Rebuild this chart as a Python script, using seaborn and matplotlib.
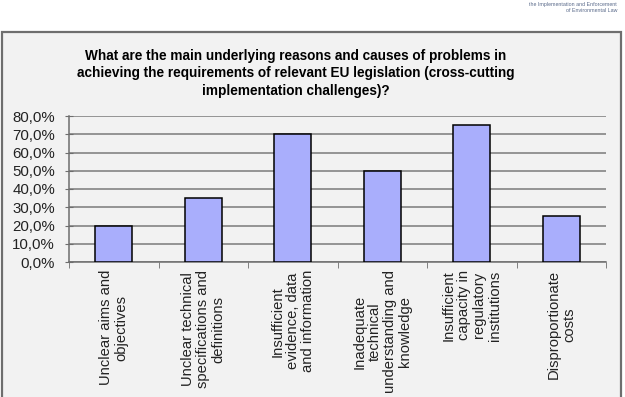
import seaborn as sns
import pandas as pd
from matplotlib import pyplot as plt
from matplotlib.patches import Rectangle

categories = [
    'Unclear aims and\nobjectives',
    'Unclear technical\nspecifications and\ndefinitions',
    'Insufficient\nevidence, data\nand information',
    'Inadequate\ntechnical\nunderstanding and\nknowledge',
    'Insufficient\ncapacity in\nregulatory\ninstitutions',
    'Disproportionate\ncosts',
]
shares = [20.0, 35.0, 70.0, 50.0, 75.0, 25.0]
y_ticks = [0, 10, 20, 30, 40, 50, 60, 70, 80]
y_tick_labels = ['0,0%', '10,0%', '20,0%', '30,0%', '40,0%', '50,0%', '60,0%', '70,0%', '80,0%']
title = ('What are the main underlying reasons and causes of problems in\n'
         'achieving the requirements of relevant EU legislation (cross-cutting\n'
         'implementation challenges)?')
logo_lines = ['the Implementation and Enforcement', 'of Environmental Law']

df = pd.DataFrame({'reason': categories, 'share': shares})

plt.rcParams['font.family'] = ['Liberation Sans', 'DejaVu Sans']
fig = plt.figure(figsize=(6.25, 3.97), dpi=100, facecolor='white')

# grey chart frame behind everything
fig.patches.append(Rectangle((2 / 625, -0.05), 619 / 625, 1.05 - 32 / 397,
                             transform=fig.transFigure, facecolor='#f2f2f2',
                             edgecolor='#6e6e6e', linewidth=1.6, zorder=-10))

ax = fig.add_axes([69 / 625, 1 - 262 / 397, 537 / 625, 146 / 397])
ax.set_facecolor('none')

sns.barplot(data=df, x='reason', y='share', ax=ax, color='#a9aefc',
            edgecolor='black', linewidth=1.1, width=0.41, saturation=1, zorder=3)

ax.set_xlim(-0.5, len(categories) - 0.5)
ax.set_ylim(0, 80)
ax.set_yticks(y_ticks)
ax.set_yticklabels(y_tick_labels, fontsize=10.8, color='#222222')
ax.yaxis.grid(True, color='#7a7a7a', linewidth=1.1, zorder=1)
ax.set_axisbelow(True)

ax.set_xticks(range(len(categories)))
ax.set_xticklabels(categories, rotation=90, fontsize=10.6, ha='center', va='top',
                   multialignment='center', linespacing=1.12, color='#222222')
ax.tick_params(axis='x', which='major', length=0, pad=5.8)
ax.set_xticks([i - 0.5 for i in range(len(categories) + 1)], minor=True)
ax.tick_params(axis='x', which='minor', length=4, color='#6e6e6e', direction='out')
ax.tick_params(axis='y', length=6, color='#6e6e6e', direction='inout', pad=7)

for side in ['top', 'right']:
    ax.spines[side].set_visible(False)
for side in ['left', 'bottom']:
    ax.spines[side].set_color('#6e6e6e')
    ax.spines[side].set_linewidth(1.1)
ax.set_xlabel('')
ax.set_ylabel('')

fig.text(296 / 625, 1 - 49 / 397, title, ha='center', va='top', fontsize=9.8,
         fontweight='bold', linespacing=1.3)
fig.text(617 / 625, 1 - 2 / 397, '\n'.join(logo_lines), ha='right', va='top',
         fontsize=3.8, color='#5a6a8a', linespacing=1.3)

fig.savefig('out.png', dpi=100, facecolor='white')
